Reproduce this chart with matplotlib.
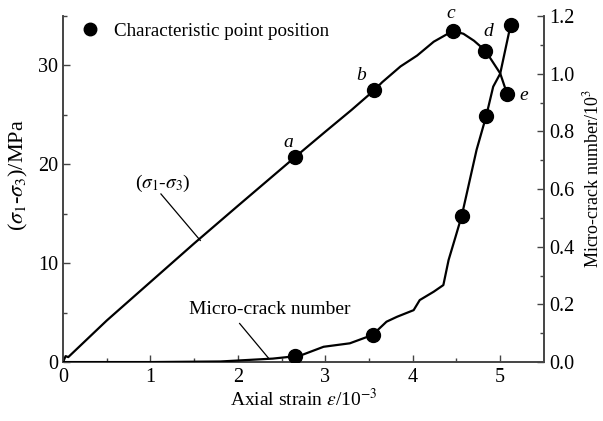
import matplotlib
matplotlib.use("Agg")
import matplotlib.pyplot as plt

plt.rcParams["font.family"] = ["Liberation Serif", "DejaVu Serif"]
plt.rcParams["mathtext.fontset"] = "stix"

# stress-strain curve (sigma1 - sigma3), MPa
strain_s = [0.0, 0.03, 0.06, 0.5, 1.0, 1.5, 2.0, 2.65, 3.0, 3.3, 3.56,
            3.65, 3.86, 4.05, 4.24, 4.46, 4.58, 4.70, 4.83, 5.0, 5.08]
stress = [0.0, 0.6, 0.5, 4.2, 8.1, 12.0, 15.8, 20.7, 23.3, 25.5, 27.5,
          28.3, 29.9, 31.0, 32.4, 33.5, 33.2, 32.5, 31.5, 29.2, 27.1]

# micro-crack number curve, /10^3
strain_c = [0.0, 1.0, 1.8, 2.4, 2.65, 2.71, 2.98, 3.28, 3.54, 3.70, 3.82,
            4.01, 4.08, 4.24, 4.35, 4.41, 4.49, 4.56, 4.61, 4.73, 4.84,
            4.92, 5.0, 5.12]
cracks = [0.0, 0.0, 0.002, 0.012, 0.02, 0.022, 0.053, 0.065, 0.094, 0.14,
          0.157, 0.18, 0.215, 0.244, 0.267, 0.354, 0.435, 0.507, 0.574,
          0.736, 0.853, 0.955, 1.0, 1.17]

# characteristic points
pt_labels = ["a", "b", "c", "d", "e"]
pt_strain_s = [2.655, 3.56, 4.46, 4.83, 5.08]
pt_stress = [20.7, 27.5, 33.5, 31.5, 27.1]
pt_strain_c = [2.65, 3.54, 4.56, 4.84, 5.12]
pt_cracks = [0.022, 0.094, 0.507, 0.853, 1.17]

fig = plt.figure(figsize=(6.03, 4.21), dpi=100)
ax = fig.add_axes([0.1045, 0.140, 0.7975, 0.822])
ax2 = ax.twinx()

ax.plot(strain_s, stress, color="black", lw=1.6, zorder=3)
ax.plot(pt_strain_s, pt_stress, "o", color="black", ms=10, zorder=4,
        label="Characteristic point position")
ax2.plot(strain_c, cracks, color="black", lw=1.6, zorder=3)
ax2.plot(pt_strain_c, pt_cracks, "o", color="black", ms=10, zorder=4)

label_off = [(-0.08, 1.5), (-0.15, 1.5), (-0.03, 1.8), (0.03, 1.9), (0.19, -0.1)]
for lab, x, y, (dx, dy) in zip(pt_labels, pt_strain_s, pt_stress, label_off):
    ax.text(x + dx, y + dy, lab, style="italic", fontsize=14,
            ha="center", va="center")

ax.text(1.14, 18.1, r"($\sigma_1$-$\sigma_3$)", fontsize=14, ha="center", va="center")
ax.plot([1.12, 1.57], [17.0, 12.3], color="black", lw=0.9)
ax.text(2.37, 5.3, "Micro-crack number", fontsize=14, ha="center", va="center")
ax.plot([2.02, 2.35], [3.9, 0.4], color="black", lw=0.9)

ax.set_xlim(0, 5.5)
ax.set_ylim(0, 35)
ax2.set_ylim(0, 1.2)
ax.set_xticks([0, 1, 2, 3, 4, 5])
ax.set_xticks([0.5, 1.5, 2.5, 3.5, 4.5], minor=True)
ax.set_yticks([0, 10, 20, 30])
ax.set_yticks([5, 15, 25, 35], minor=True)
ax2.set_yticks([0.0, 0.2, 0.4, 0.6, 0.8, 1.0, 1.2])
ax2.set_yticks([0.1, 0.3, 0.5, 0.7, 0.9, 1.1], minor=True)
ax2.set_yticklabels(["0.0", "0.2", "0.4", "0.6", "0.8", "1.0", "1.2"])

for a in (ax, ax2):
    a.spines["top"].set_visible(False)
    for s in a.spines.values():
        s.set_color("#444444")
        s.set_linewidth(1.2)
    a.tick_params(which="both", direction="in", color="#444444", labelsize=14.5)
    a.tick_params(which="major", length=5, width=1.0)
    a.tick_params(which="minor", length=3, width=1.0)
ax.tick_params(axis="x", pad=4)

ax.set_xlabel(r"Axial strain $\varepsilon$/10$^{-3}$", fontsize=14, labelpad=1)
ax.set_ylabel(r"($\sigma_1$-$\sigma_3$)/MPa", fontsize=16)
ax.yaxis.set_label_coords(-0.068, 0.54)
ax2.set_ylabel(r"Micro-crack number/10$^3$", fontsize=13)
ax2.yaxis.set_label_coords(1.08, 0.53)

ax.legend(loc="upper left", frameon=False, fontsize=13.7, handletextpad=0.3,
          borderaxespad=0.0, borderpad=0.2, markerscale=0.9,
          bbox_to_anchor=(0.008, 0.993))

fig.savefig("out.png", dpi=100)
